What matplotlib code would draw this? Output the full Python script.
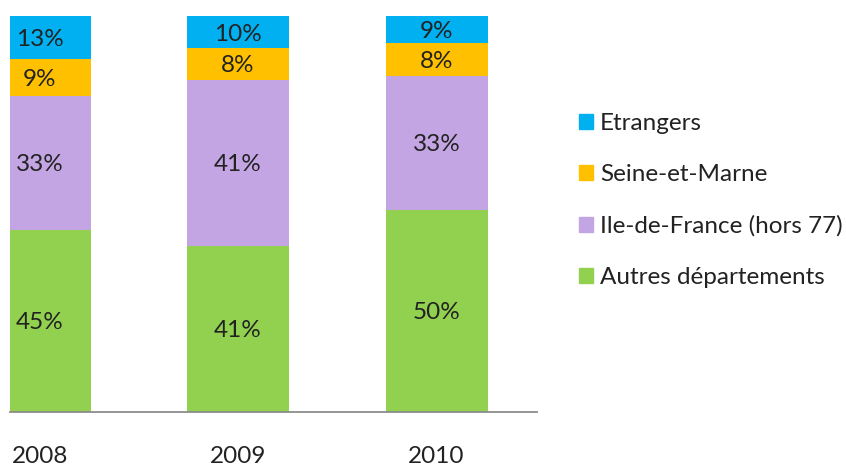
import matplotlib
matplotlib.use("Agg")
import matplotlib.pyplot as plt
from matplotlib.patches import Patch

plt.rcParams['font.family'] = ['Lato', 'DejaVu Sans']

years = ["2008", "2009", "2010"]
series = ["Autres départements", "Ile-de-France (hors 77)", "Seine-et-Marne", "Etrangers"]
# bar segment heights as measured on the picture (share of 100)
autres = [45.9, 41.8, 50.9]
idf = [33.9, 42.1, 34.0]
seine = [9.3, 8.1, 8.3]
etrangers = [10.9, 7.9, 6.8]
# data labels as printed
autres_lbl = ["45%", "41%", "50%"]
idf_lbl = ["33%", "41%", "33%"]
seine_lbl = ["9%", "8%", "8%"]
etrangers_lbl = ["13%", "10%", "9%"]

values = [autres, idf, seine, etrangers]
labels = [autres_lbl, idf_lbl, seine_lbl, etrangers_lbl]
colors = ["#92D050", "#C3A5E3", "#FFC000", "#00B0F0"]

W, H = 846, 469
fig = plt.figure(figsize=(W / 100, H / 100), dpi=100)
ax = fig.add_axes([10 / W, (H - 411.5) / H, 527 / W, 395.5 / H])

x = list(range(len(years)))
bottom = [0, 0, 0]
for vals, lbls, col, name in zip(values, labels, colors, series):
    ax.bar(x, vals, width=0.514, bottom=bottom, color=col, label=name)
    for xi, v, b, t in zip(x, vals, bottom, lbls):
        ax.text(xi, b + v / 2, t, ha="center", va="center_baseline",
                fontsize=17.5, color="#222222")
    bottom = [b + v for b, v in zip(bottom, vals)]

ax.set_xlim(-0.149, 2.506)
ax.set_ylim(0, 100)
for s in ["top", "right", "left"]:
    ax.spines[s].set_visible(False)
ax.spines["bottom"].set_color("#8c8c8c")
ax.spines["bottom"].set_linewidth(1.3)
ax.set_yticks([])
ax.set_xticks(x, years)
ax.tick_params(axis="x", length=0, pad=25, labelsize=17.5, labelcolor="#222222")

handles = [Patch(color=c, label=n) for c, n in zip(colors, series)][::-1]
fig.legend(handles=handles, loc="center left", bbox_to_anchor=(579 / W, 1 - 200.5 / H),
           frameon=False, fontsize=17.5, handlelength=0.57, handleheight=0.57,
           handletextpad=0.3, labelspacing=1.25, borderpad=0, borderaxespad=0,
           labelcolor="#222222")

fig.savefig("out.png", dpi=100)
